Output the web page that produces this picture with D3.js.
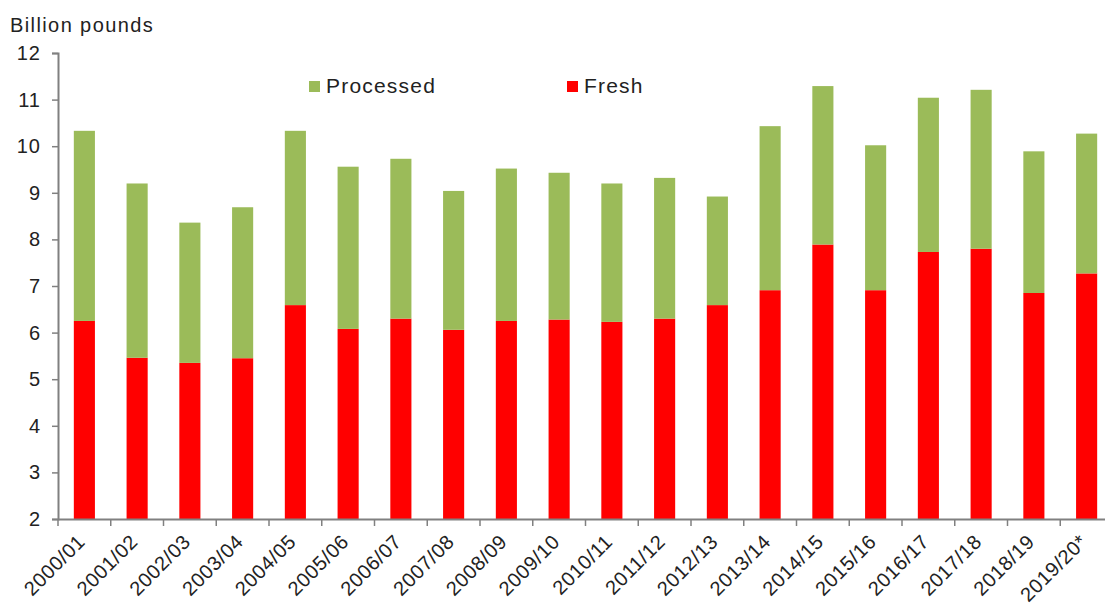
<!DOCTYPE html>
<html>
<head>
<meta charset="utf-8">
<script src="https://cdn.jsdelivr.net/npm/d3@7"></script>
<style>
  body { margin: 0; background: #fff; }
  svg { display: block; font-family: "Liberation Sans", Arial, sans-serif; }
</style>
</head>
<body>
<div class="chart"></div>
<script>
var seasons = ["2000/01", "2001/02", "2002/03", "2003/04", "2004/05", "2005/06", "2006/07",
  "2007/08", "2008/09", "2009/10", "2010/11", "2011/12", "2012/13", "2013/14", "2014/15",
  "2015/16", "2016/17", "2017/18", "2018/19", "2019/20*"];

// fresh bottom segment, processed stacked on top (billion pounds)
var fresh = [6.25, 5.46, 5.35, 5.45, 6.59, 6.08, 6.30, 6.06, 6.25, 6.28,
  6.23, 6.30, 6.59, 6.91, 7.89, 6.91, 7.73, 7.80, 6.85, 7.27];
var processed = [4.08, 3.74, 3.01, 3.24, 3.74, 3.48, 3.43, 2.98, 3.27, 3.15,
  2.97, 3.02, 2.33, 3.52, 3.40, 3.11, 3.31, 3.41, 3.04, 3.00];

var yTicks = [2, 3, 4, 5, 6, 7, 8, 9, 10, 11, 12];

var svgWidth = 1105;
var svgHeight = 604;

var svg = d3.select(".chart")
  .append("svg")
  .attr("width", svgWidth)
  .attr("height", svgHeight);

var x = d3.scaleBand()
  .domain(seasons)
  .range([58, 58 + 52.75 * seasons.length])
  .padding(0);

var y = d3.scaleLinear()
  .domain([2, 12])
  .range([519, 53]);

var barW = x.bandwidth() * 0.4;

var rows = seasons.map(function(s, i) {
  return { season: s, fresh: fresh[i], processed: processed[i] };
});

// red fresh bars
svg.append("g").selectAll("rect")
  .data(rows)
  .enter()
  .append("rect")
  .attr("x", d => x(d.season) + (x.bandwidth() - barW) / 2)
  .attr("y", d => y(d.fresh))
  .attr("width", barW)
  .attr("height", d => y(2) - y(d.fresh))
  .attr("fill", "#ff0000");

// green processed on top
svg.append("g").selectAll("rect")
  .data(rows)
  .enter()
  .append("rect")
  .attr("x", d => x(d.season) + (x.bandwidth() - barW) / 2)
  .attr("y", d => y(d.fresh + d.processed))
  .attr("width", barW)
  .attr("height", d => y(d.fresh) - y(d.fresh + d.processed))
  .attr("fill", "#9bbb59");

// y axis
var leftAxis = d3.axisLeft(y)
  .tickValues(yTicks)
  .tickSize(6)
  .tickPadding(11)
  .tickFormat(d3.format("d"));

var yAxis = svg.append("g")
  .attr("transform", "translate(58,0)")
  .call(leftAxis);

yAxis.select(".domain").attr("stroke", "#808080").attr("stroke-width", 2);
yAxis.selectAll(".tick line").attr("stroke", "#808080").attr("stroke-width", 1.5);
yAxis.selectAll(".tick text")
  .attr("font-size", 20)
  .attr("letter-spacing", 1)
  .attr("fill", "#222");

// x axis: baseline with ticks on category boundaries
var bottomAxis = d3.axisBottom(x).tickSize(0).tickFormat("");
var xAxis = svg.append("g")
  .attr("transform", "translate(0," + y(2) + ")")
  .call(bottomAxis);
xAxis.select(".domain").attr("stroke", "#808080").attr("stroke-width", 2);

xAxis.selectAll(".boundary")
  .data(seasons)
  .enter()
  .append("line")
  .attr("class", "boundary")
  .attr("x1", d => x(d))
  .attr("x2", d => x(d))
  .attr("y1", 0)
  .attr("y2", 7)
  .attr("stroke", "#808080")
  .attr("stroke-width", 1.5);

// rotated category labels
svg.append("g").selectAll("text")
  .data(seasons)
  .enter()
  .append("text")
  .attr("transform", d => "translate(" + (x(d) + x.bandwidth() / 2 - 8) + "," + (y(2) + 14) + ") rotate(-45)")
  .attr("text-anchor", "end")
  .attr("dy", "0.7em")
  .attr("font-size", 20)
  .attr("letter-spacing", 0.6)
  .attr("fill", "#222")
  .text(d => d);

// unit label
svg.append("text")
  .attr("x", 10)
  .attr("y", 32)
  .attr("font-size", 20)
  .attr("letter-spacing", 1.4)
  .attr("fill", "#222")
  .text("Billion pounds");

// legend
var legend = [
  { name: "Processed", color: "#9bbb59", x: 309 },
  { name: "Fresh", color: "#ff0000", x: 567 }
];

var lg = svg.append("g").selectAll("g")
  .data(legend)
  .enter()
  .append("g")
  .attr("transform", d => "translate(" + d.x + ",0)");

lg.append("rect")
  .attr("x", 0)
  .attr("y", 81)
  .attr("width", 11)
  .attr("height", 11)
  .attr("fill", d => d.color);

lg.append("text")
  .attr("x", 17)
  .attr("y", 93)
  .attr("font-size", 21)
  .attr("letter-spacing", 1.2)
  .attr("fill", "#222")
  .text(d => d.name);
</script>
</body>
</html>
